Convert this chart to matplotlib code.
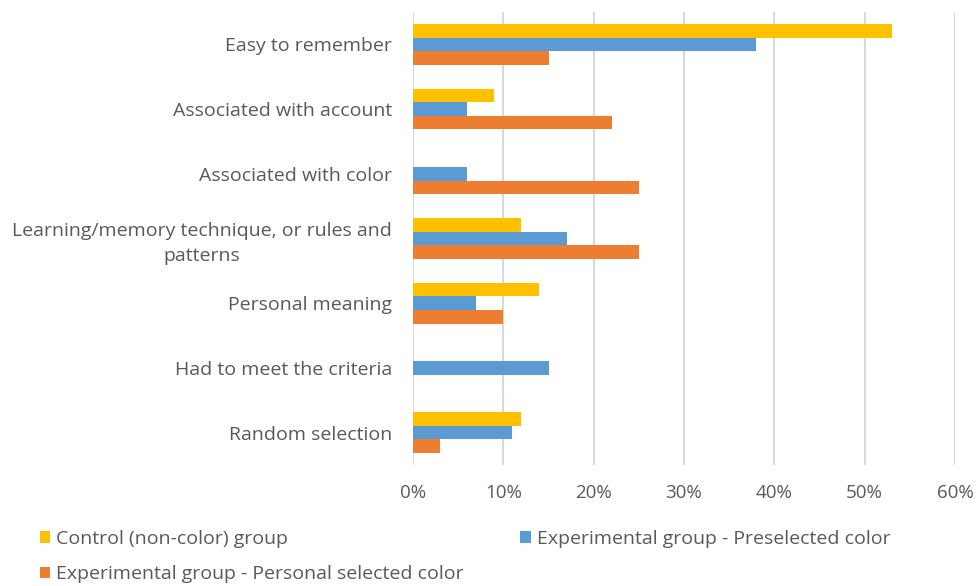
import matplotlib
matplotlib.use("Agg")
import matplotlib.pyplot as plt
import numpy as np
from matplotlib.ticker import PercentFormatter

categories = ["Easy to remember", "Associated with account", "Associated with color",
              "Learning/memory technique, or rules and\npatterns", "Personal meaning",
              "Had to meet the criteria", "Random selection"]
control = [53, 9, 0, 12, 14, 0, 12]
preselected = [38, 6, 6, 17, 7, 15, 11]
personal = [15, 22, 25, 25, 10, 0, 3]
series_names = ["Control (non-color) group", "Experimental group - Preselected color",
                "Experimental group - Personal selected color"]
colors = ["#FFC000", "#5B9BD5", "#ED7D31"]

plt.rcParams['font.family'] = ['Open Sans', 'DejaVu Sans']
txt = "#595959"

fig = plt.figure(figsize=(9.76, 5.86), dpi=100)
ax = fig.add_axes([413/976, 1-465/586, (955-413)/976, (465-12)/586])

y = np.arange(len(categories))
h = 0.21
bars = []
for i, (vals, name, c) in enumerate(zip([control, preselected, personal], series_names, colors)):
    bars.append(ax.barh(y + (i - 1) * h, vals, height=h, color=c, label=name, zorder=3))

ax.set_ylim(len(categories) - 0.5, -0.5)
ax.set_xlim(0, 60)
ax.set_xticks(range(0, 61, 10))
ax.xaxis.set_major_formatter(PercentFormatter(decimals=0))
ax.set_yticks(y)
ax.set_yticklabels(categories, fontsize=14, color=txt, ha='right', multialignment='center',
                   linespacing=1.45)
ax.tick_params(axis='y', length=0, pad=15)
ax.tick_params(axis='x', length=0, labelsize=13.5, labelcolor=txt, pad=14)
ax.grid(axis='x', color='#D9D9D9', linewidth=1.5, zorder=0)
for s in ax.spines.values():
    s.set_visible(False)

handles = [bars[0], bars[2], bars[1]]
labels = [series_names[0], series_names[2], series_names[1]]
fig.legend(handles, labels, loc='upper left', bbox_to_anchor=(32/976, 1-522/586), ncol=2,
           frameon=False, fontsize=14, labelcolor=txt, handlelength=0.55, handleheight=0.55,
           handletextpad=0.3, columnspacing=2.9, borderaxespad=0, labelspacing=0.9)

fig.savefig("out.png", dpi=100)
